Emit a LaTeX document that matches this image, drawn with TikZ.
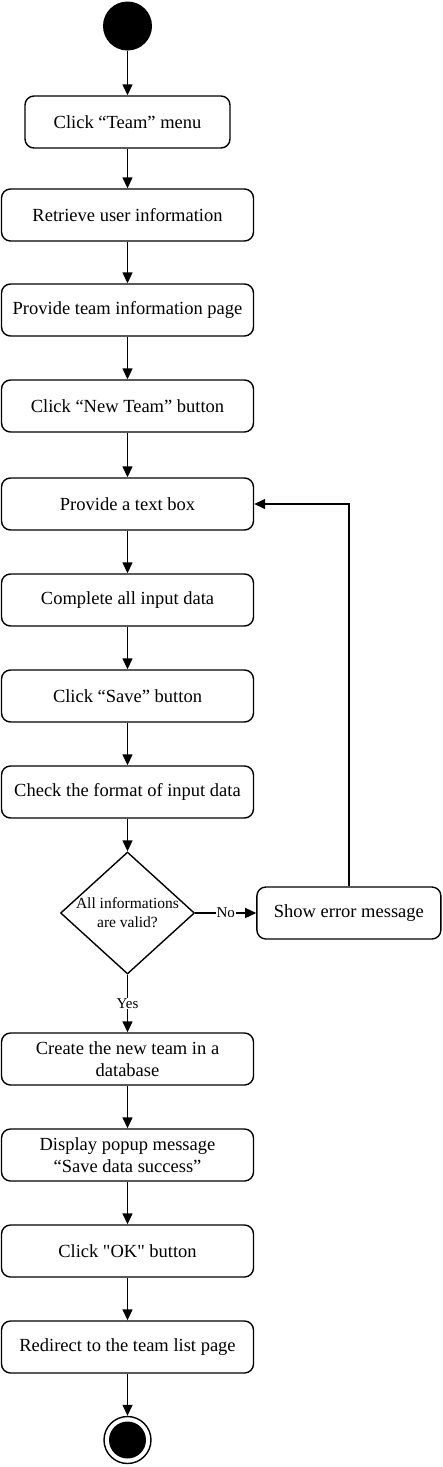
\documentclass[tikz,border=0pt]{standalone}
\usepackage{fontspec}
\setmainfont{Liberation Serif}
\usetikzlibrary{arrows.meta,shapes.geometric,positioning}

\begin{document}
\begin{tikzpicture}[x=1pt,y=1pt]
		\tikzstyle{activity}=[draw, line width=1.4pt, rounded corners=9pt, minimum width=252pt, minimum height=52pt, align=center, font=\fontsize{18.5}{22}\selectfont]
		\tikzstyle{short_activity}=[activity, minimum width=205pt]
		\tikzstyle{decision}=[draw, diamond, line width=1.4pt, minimum width=134pt, minimum height=122pt, inner sep=0pt]
		\tikzstyle{decision_text}=[align=center, font=\fontsize{15.5}{19}\selectfont]
		\tikzstyle{start_node}=[circle, fill=black, minimum size=49pt, inner sep=0pt]
		\tikzstyle{end_ring}=[circle, draw, line width=1.4pt, minimum size=47pt, inner sep=0pt]
		\tikzstyle{end_dot}=[circle, fill=black, minimum size=37pt, inner sep=0pt]
		\tikzstyle{guard}=[fill=white, inner sep=1pt, font=\fontsize{15}{18}\selectfont]
		\tikzstyle{arrow}=[line width=1.4pt, -{Triangle[length=11pt,width=10pt]}]

		\useasboundingbox (0,0) rectangle (442,-1467);

		\node [start_node] (start) at (127.5,-26) {};
		\node [short_activity] (team_menu) [below of=start, node distance=96pt] {Click “Team” menu};
		\node [activity] (user_info) [below of=team_menu, node distance=93pt] {Retrieve user information};
		\node [activity] (team_page) [below of=user_info, node distance=95pt] {Provide team information page};
		\node [activity] (new_team) [below of=team_page, node distance=96pt] {Click “New Team” button};
		\node [activity] (text_box) [below of=new_team, node distance=98pt] {Provide a text box};
		\node [activity] (input_data) [below of=text_box, node distance=96pt] {Complete all input data};
		\node [activity] (save_btn) [below of=input_data, node distance=96pt] {Click “Save” button};
		\node [activity] (check_format) [below of=save_btn, node distance=96pt] {Check the format of input data};

		\node [decision] (valid) [below of=check_format, node distance=121pt] {};
		\node [decision_text] (valid_text) at (valid.center) {All informations\\are valid?};
		\node [activity, minimum width=184pt] (error_msg) [right=61pt of valid] {Show error message};

		\node [activity] (create_team) [below of=valid, node distance=146pt] {Create the new team in a\\database};
		\node [activity] (popup) [below of=create_team, node distance=96pt] {Display popup message\\“Save data success”};
		\node [activity] (ok_btn) [below of=popup, node distance=96pt] {Click \textquotedbl OK\textquotedbl{} button};
		\node [activity] (redirect) [below of=ok_btn, node distance=96pt] {Redirect to the team list page};

		\node [end_ring] (stop) [below of=redirect, node distance=93pt] {};
		\node [end_dot] (stop_dot) at (stop.center) {};

	\draw [arrow] (start) -- (team_menu);
	\draw [arrow] (team_menu) -- (user_info);
	\draw [arrow] (user_info) -- (team_page);
	\draw [arrow] (team_page) -- (new_team);
	\draw [arrow] (new_team) -- (text_box);
	\draw [arrow] (text_box) -- (input_data);
	\draw [arrow] (input_data) -- (save_btn);
	\draw [arrow] (save_btn) -- (check_format);
	\draw [arrow] (check_format) -- (valid);

	\draw [arrow] (valid.east) -- node [guard] {No} (error_msg.west);
	\draw [arrow] (error_msg.north) |- (text_box.east);
	\draw [arrow] (valid.south) -- node [guard] {Yes} (create_team.north);

	\draw [arrow] (create_team) -- (popup);
	\draw [arrow] (popup) -- (ok_btn);
	\draw [arrow] (ok_btn) -- (redirect);
	\draw [arrow] (redirect) -- (stop);

\end{tikzpicture}
\end{document}
